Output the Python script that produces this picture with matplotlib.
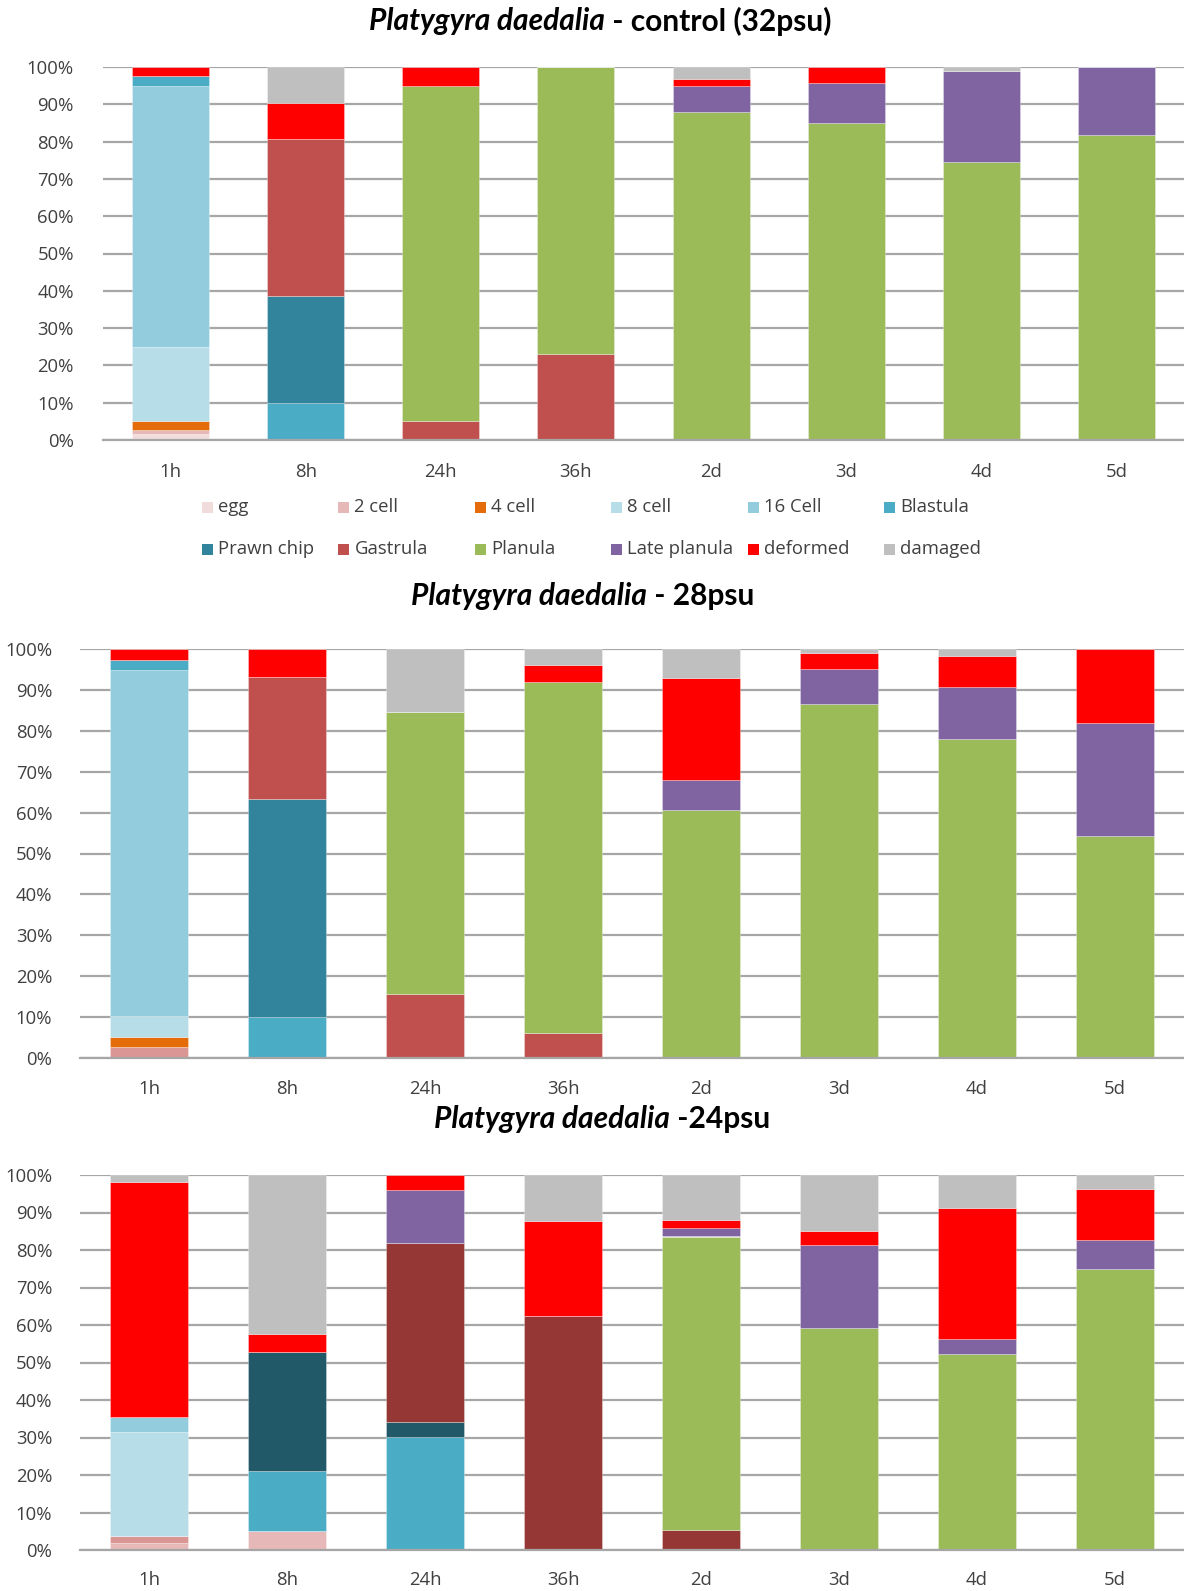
import matplotlib
matplotlib.use("Agg")
import matplotlib.pyplot as plt
from matplotlib.patches import Rectangle
import numpy as np

# ---- data -----------------------------------------------------------------
times = ["1h", "8h", "24h", "36h", "2d", "3d", "4d", "5d"]
stages = ["egg", "2 cell", "4 cell", "8 cell", "16 Cell", "Blastula",
          "Prawn chip", "Gastrula", "Planula", "Late planula", "deformed", "damaged"]

# percentage of each stage (rows follow `stages`, columns follow `times`)
pct_32psu = [
    [1.6, 0, 0, 0, 0, 0, 0, 0],
    [1.2, 0, 0, 0, 0, 0, 0, 0],
    [2.4, 0, 0, 0, 0, 0, 0, 0],
    [19.7, 0, 0, 0, 0, 0, 0, 0],
    [69.9, 0, 0, 0, 0, 0, 0, 0],
    [2.7, 9.8, 0, 0, 0, 0, 0, 0],
    [0, 28.7, 0, 0, 0, 0, 0, 0],
    [0, 42.2, 5.2, 23.0, 0, 0, 0, 0],
    [0, 0, 89.6, 77.0, 88.0, 84.9, 74.5, 81.7],
    [0, 0, 0, 0, 6.8, 10.8, 24.3, 18.3],
    [2.5, 9.6, 5.2, 0, 1.9, 4.3, 0, 0],
    [0, 9.7, 0, 0, 3.3, 0, 1.2, 0],
]

pct_28psu = [
    [0, 0, 0, 0, 0, 0, 0, 0],
    [2.7, 0, 0, 0, 0, 0, 0, 0],
    [2.5, 0, 0, 0, 0, 0, 0, 0],
    [5.0, 0, 0, 0, 0, 0, 0, 0],
    [84.7, 0, 0, 0, 0, 0, 0, 0],
    [2.4, 10.1, 0, 0, 0, 0, 0, 0],
    [0, 53.3, 0, 0, 0, 0, 0, 0],
    [0, 29.7, 15.6, 6.2, 0, 0, 0, 0],
    [0, 0, 69.0, 85.7, 60.6, 86.6, 77.9, 54.3],
    [0, 0, 0, 0, 7.4, 8.6, 12.7, 27.7],
    [2.7, 6.9, 0, 4.3, 24.8, 3.8, 7.6, 18.0],
    [0, 0, 15.4, 3.8, 7.2, 1.0, 1.8, 0],
]

pct_24psu = [
    [2.0, 5.1, 0, 0, 0, 0, 0, 0],
    [1.8, 0, 0, 0, 0, 0, 0, 0],
    [0, 0, 0, 0, 0, 0, 0, 0],
    [27.6, 0, 0, 0, 0, 0, 0, 0],
    [4.0, 0, 0, 0, 0, 0, 0, 0],
    [0, 15.9, 30.2, 0, 0, 0, 0, 0],
    [0, 31.8, 3.9, 0, 0, 0, 0, 0],
    [0, 0, 47.8, 62.5, 5.4, 0, 0, 0],
    [0, 0, 0, 0, 78.2, 59.3, 52.3, 75.0],
    [0, 0, 14.1, 0, 2.2, 22.0, 3.9, 7.6],
    [62.7, 4.9, 4.0, 25.2, 2.3, 3.8, 35.1, 13.7],
    [1.9, 42.3, 0, 12.3, 11.9, 14.9, 8.7, 3.7],
]

y_ticks = [0, 10, 20, 30, 40, 50, 60, 70, 80, 90, 100]

# ---- styling --------------------------------------------------------------
base_colors = ["#F2DCDB", "#E6B9B8", "#E46C0A", "#B7DEE8", "#93CDDD", "#4BACC6",
               "#31849B", "#C0504D", "#9BBB59", "#8064A2", "#FF0000", "#BFBFBF"]
colors_28 = list(base_colors)
colors_28[1] = "#DA9694"
colors_24 = list(base_colors)
colors_24[0] = "#E6B9B8"
colors_24[1] = "#DA9694"
colors_24[6] = "#215968"
colors_24[7] = "#953735"

FONT = "Open Sans"
TITLE_FONT = "Lato"
TXT = "#404040"
GRID = "#A6A6A6"
LABEL_SIZE = 13.3

W, H = 1184, 1591
fig = plt.figure(figsize=(W / 100, H / 100), dpi=100)


def make_axes(left, right, top, bottom):
    return fig.add_axes([left / W, 1 - bottom / H, (right - left) / W, (bottom - top) / H])


def draw_panel(ax, data, colors, ypad, xpad):
    x = np.arange(len(times))
    bottom = np.zeros(len(times))
    for vals, col in zip(data, colors):
        vals = np.asarray(vals, dtype=float)
        ax.bar(x, vals, width=0.57, bottom=bottom, color=col,
               edgecolor=(1, 1, 1, 0.35), linewidth=0.6, zorder=2)
        bottom += vals
    ax.set_xlim(-0.5, len(times) - 0.5)
    ax.set_ylim(0, 100)
    ax.set_yticks(y_ticks)
    ax.set_yticklabels([f"{t}%" for t in y_ticks])
    ax.set_xticks(x)
    ax.set_xticklabels(times)
    ax.yaxis.grid(True, color=GRID, linewidth=1.6, zorder=0)
    ax.set_axisbelow(True)
    for s in ("top", "right", "left"):
        ax.spines[s].set_visible(False)
    ax.spines["bottom"].set_color(GRID)
    ax.spines["bottom"].set_linewidth(1.6)
    ax.tick_params(axis="both", length=0, labelsize=LABEL_SIZE, labelcolor=TXT)
    ax.tick_params(axis="y", pad=ypad)
    ax.tick_params(axis="x", pad=xpad)
    for lab in ax.get_xticklabels() + ax.get_yticklabels():
        lab.set_fontfamily(FONT)


def rich_title(xc, yc, parts, size=21.5):
    """Centre a run of differently styled text pieces at (xc, yc) pixels."""
    renderer = fig.canvas.get_renderer()
    texts = []
    for s, style in parts:
        t = fig.text(0, 1 - yc / H, s, fontsize=size, fontweight="bold",
                     fontstyle=style, fontfamily=TITLE_FONT, color="black",
                     va="center", ha="left")
        texts.append(t)
    widths = [t.get_window_extent(renderer).width for t in texts]
    x = xc - sum(widths) / 2
    for t, w in zip(texts, widths):
        t.set_x(x / W)
        x += w


ax1 = make_axes(103, 1184, 67, 440)
draw_panel(ax1, pct_32psu, base_colors, ypad=21, xpad=16.5)
ax2 = make_axes(80, 1184, 649, 1058)
draw_panel(ax2, pct_28psu, colors_28, ypad=20, xpad=15.5)
ax3 = make_axes(80, 1184, 1175, 1550)
draw_panel(ax3, pct_24psu, colors_24, ypad=20, xpad=15)

fig.canvas.draw()
rich_title(600, 21, [("Platygyra daedalia", "italic"), (" - control (32psu)", "normal")])
rich_title(583, 596, [("Platygyra daedalia", "italic"), (" - 28psu", "normal")])
rich_title(602, 1119, [("Platygyra daedalia", "italic"), (" -24psu", "normal")])

# legend below the first panel: two rows of six entries
leg_x0, leg_dx = 202, 136.4
leg_rows = [507, 549]
sq = 11
for i, (name, col) in enumerate(zip(stages, base_colors)):
    r, c = divmod(i, 6)
    xl = leg_x0 + c * leg_dx
    yc = leg_rows[r]
    fig.patches.append(Rectangle((xl / W, 1 - (yc + sq / 2) / H), sq / W, sq / H,
                                 transform=fig.transFigure, facecolor=col,
                                 edgecolor="none"))
    fig.text((xl + sq + 5) / W, 1 - yc / H, name, fontsize=LABEL_SIZE, fontfamily=FONT,
             color=TXT, va="center", ha="left")

fig.savefig("out.png", dpi=100, facecolor="white")
